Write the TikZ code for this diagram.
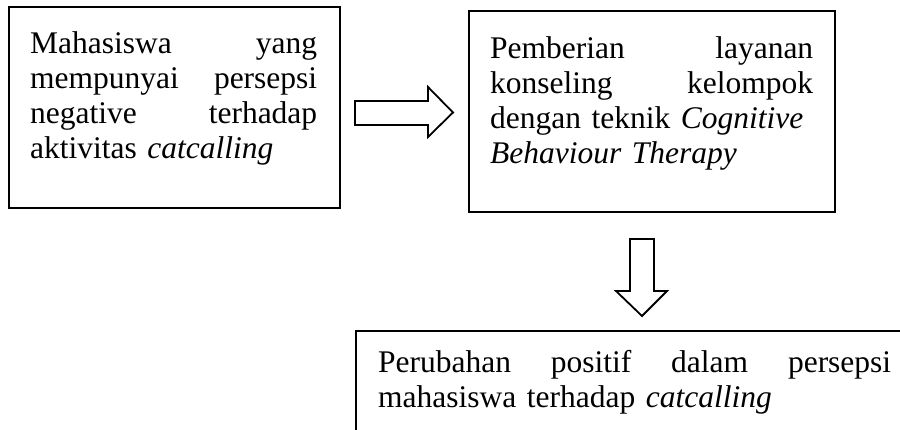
\documentclass[tikz,border=0pt]{standalone}
\usepackage{fontspec}
\setmainfont{Liberation Serif}
\usetikzlibrary{calc}
\newcommand{\jl}[1]{\makebox[\linewidth][s]{#1}\\}
\begin{document}
\begin{tikzpicture}[x=1pt,y=1pt,
  boxnode/.style={draw=black, line width=1.8pt, rectangle, inner sep=0pt},
  txtnode/.style={inner sep=0pt, anchor=north west, align=left,
    font=\fontsize{31.5}{35}\selectfont},
  blockarrow/.style={draw=black, line width=1.8pt, line join=miter}]
\useasboundingbox (0,0) rectangle (900,430);
\clip (0,0) rectangle (900,430);
% boxes
\node[boxnode, minimum width=331pt, minimum height=201pt] (b1) at (174.5,322.5) {};
\node[boxnode, minimum width=366pt, minimum height=201pt] (b2) at (652,318.5) {};
\node[boxnode, minimum width=574pt, minimum height=129pt] (b3) at (643,34.5) {};
% texts
\node[txtnode, text width=287pt] (t1) at (30,398.5) {%
\jl{Mahasiswa \hfill yang}
\jl{mempunyai \hfill persepsi}
\jl{negative \hfill terhadap}
aktivitas \textit{catcalling}};
\node[txtnode, text width=323pt] (t2) at (490,393.5) {%
\jl{Pemberian \hfill layanan}
\jl{konseling \hfill kelompok}
\jl{dengan teknik \textit{Cognitive}}
\textit{Behaviour Therapy}};
\node[txtnode, text width=513pt] (t3) at (378,79.5) {%
\jl{Perubahan \hfill positif \hfill dalam \hfill persepsi}
mahasiswa terhadap \textit{catcalling}};
% block arrows
\coordinate (r1) at (355,317.5);
\coordinate (d1) at (642,191);
\draw[blockarrow] ($(r1)+(0,11.5)$) -- ++(73,0) -- ++(0,14) -- ++(25,-25.5)
  -- ++(-25,-24.5) -- ++(0,12) -- ++(-73,0) -- cycle;
\draw[blockarrow] ($(d1)+(-12,0)$) -- ++(0,-52) -- ++(-14,0) -- ++(26,-25)
  -- ++(25,25) -- ++(-13,0) -- ++(0,52) -- cycle;
\end{tikzpicture}
\end{document}
